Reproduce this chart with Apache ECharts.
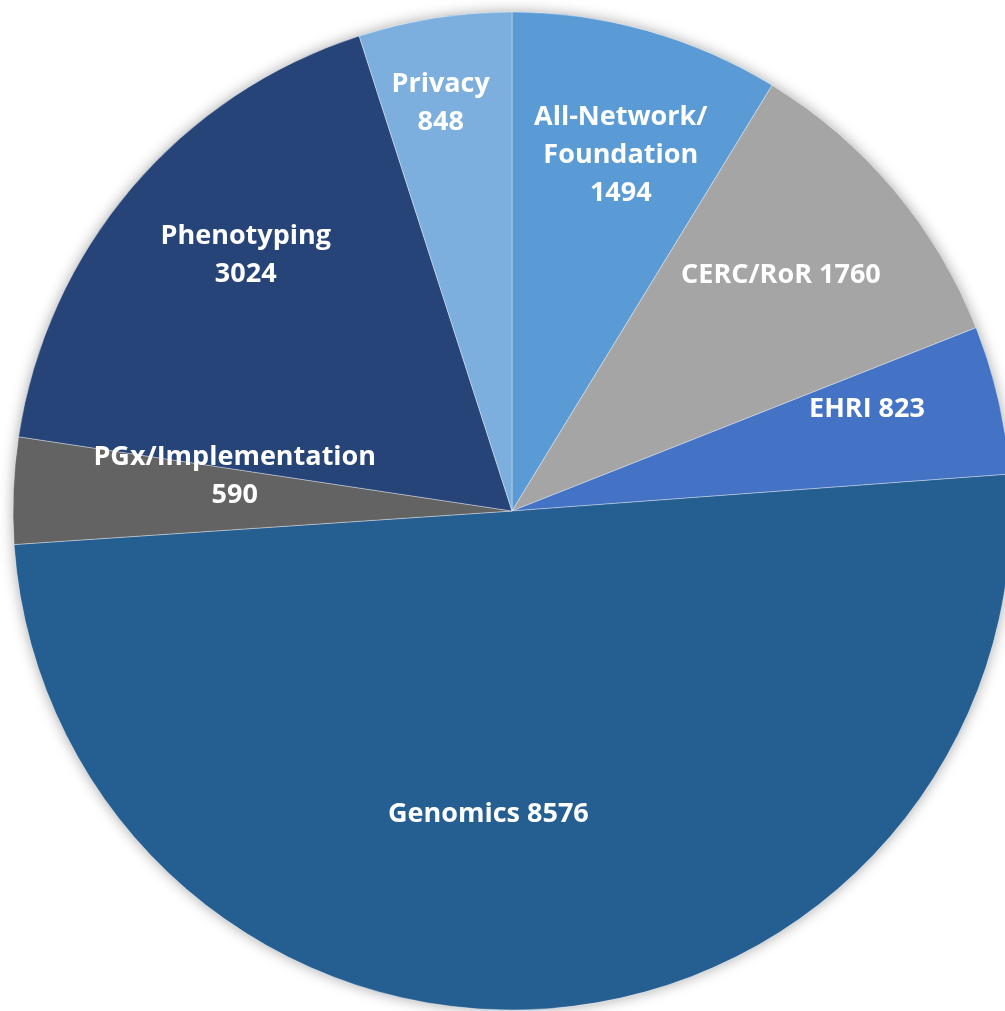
<!DOCTYPE html>
<html>
<head>
<meta charset="utf-8">
<script src="https://cdn.jsdelivr.net/npm/echarts@6/dist/echarts.min.js"></script>
<style>
html, body { margin: 0; padding: 0; background: #fff; }
#chart { width: 1005px; height: 1011px; }
</style>
</head>
<body>
<div id="chart"></div>
<script>
var myChart = echarts.init(document.getElementById('chart'));

var categories = ['All-Network/\nFoundation', 'CERC/RoR', 'EHRI', 'Genomics', 'PGx/Implementation\n', 'Phenotyping\n', 'Privacy\n'];
var values = [1494, 1760, 823, 8576, 590, 3024, 848];
var colors = ['#5b9bd5', '#a5a5a5', '#4472c4', '#255e91', '#636363', '#264478', '#7cafdd'];

// where each label sits: fraction of radius, and angle nudge in degrees
var labelRadius = [0.745, 0.717, 0.74, 0.61, 0.56, 0.74, 0.83];
var labelNudge = [1.3, -1.2, -3.1, 8.5, 4.8, 3.5, -1.0];

var cx = 512, cy = 511, R = 499;
var total = values.reduce(function (a, b) { return a + b; }, 0);

var data = categories.map(function (c, i) {
    return { name: c, value: values[i], itemStyle: { color: colors[i] } };
});

var option = {
    animation: false,
    series: [
        {
            // soft shadow behind the whole pie
            type: 'pie',
            silent: true,
            center: [cx, cy],
            radius: R,
            label: { show: false },
            itemStyle: { color: '#fff', shadowBlur: 14, shadowColor: 'rgba(0,0,0,0.35)' },
            data: [1]
        },
        {
            name: 'Groups',
            type: 'pie',
            center: [cx, cy],
            radius: R,
            startAngle: 90,
            clockwise: true,
            label: {
                show: true,
                position: 'inside',
                color: '#fff',
                fontFamily: 'Open Sans',
                fontWeight: 'bold',
                fontSize: 27,
                lineHeight: 38,
                formatter: function (p) {
                    var n = p.name;
                    if (n.slice(-1) === '\n') return n + p.value;
                    if (n.indexOf('\n') >= 0) return n + '\n' + p.value;
                    return n + ' ' + p.value;
                }
            },
            labelLayout: function (params) {
                var i = params.dataIndex;
                var before = 0;
                for (var k = 0; k < i; k++) before += values[k];
                var mid = (before + values[i] / 2) / total * 360 + labelNudge[i];
                var a = mid * Math.PI / 180;
                return {
                    x: cx + labelRadius[i] * R * Math.sin(a),
                    y: cy - labelRadius[i] * R * Math.cos(a),
                    align: 'center',
                    verticalAlign: 'middle'
                };
            },
            itemStyle: {
                borderColor: 'rgba(255,255,255,0.35)',
                borderWidth: 1
            },
            data: data
        }
    ]
};

myChart.setOption(option);
</script>
</body>
</html>
